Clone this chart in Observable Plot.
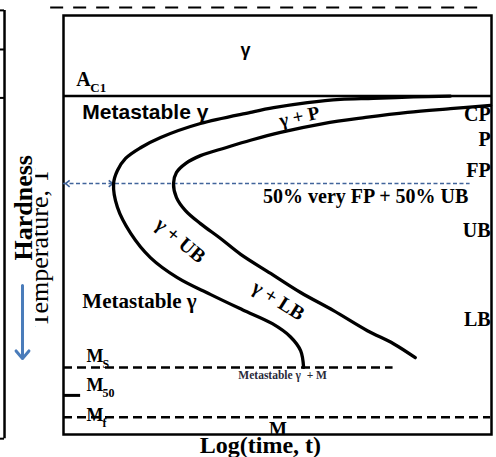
<!DOCTYPE html>
<html>
<head>
<meta charset="utf-8">
<script src="https://cdn.jsdelivr.net/npm/d3@7"></script>
<script src="https://cdn.jsdelivr.net/npm/@observablehq/plot@0.6"></script>
<style>
  body { margin: 0; background: #fff; }
</style>
</head>
<body>
<div id="chart"></div>
<script>
// Isothermal transformation (TTT) diagram: log time on x, temperature on y.

// Transformation-start curve (log10 time, temperature)
const startLogT = [9.04, 8.18, 7.24, 6.47, 5.70, 4.91, 4.37, 3.20, 2.27, 1.80, 1.45, 1.26, 1.17,
                   1.26, 1.57, 2.03, 2.66, 3.43, 4.18, 4.88, 5.30, 5.54, 5.61];
const startTemp = [727, 725, 722, 720, 713, 702, 692, 668, 638, 616, 593, 567, 539,
                   488, 432, 380, 337, 301, 268, 238, 210, 180, 144];

// Transformation-finish curve
const finishLogT = [9.98, 9.04, 8.04, 7.06, 6.07, 5.07, 4.37, 3.79, 3.20, 2.85, 2.64, 2.57,
                    2.64, 2.85, 3.20, 3.67, 4.14, 4.84, 5.54, 6.31, 7.10, 7.71, 8.22];
const finishTemp = [707, 700, 692, 681, 668, 649, 632, 616, 599, 582, 563, 539,
                    509, 481, 453, 421, 387, 346, 305, 266, 223, 195, 165];

// Critical temperatures
const AC1 = 727;
const MS = 144;
const M50 = 84;
const MF = 37;
const ISO_TEMP = 539;          // isothermal hold through the nose

// Products formed on the right-hand side
const productNames = ["CP", "P", "FP", "UB", "LB"];
const productTemps = [674, 619, 553, 424, 233];

// Martensite temperature labels
const martNames = ["M", "M", "M"];
const martSubs = ["S", "50", "f"];
const martLabelTemps = [155, 94, 30];

const serif = "'Liberation Serif', 'Times New Roman', serif";
const sans = "'Liberation Sans', Arial, sans-serif";
const blue = "#4a7cba";
const isoBlue = "#41649b";

const start = startLogT.map((x, i) => ({x, y: startTemp[i]}));
const finish = finishLogT.map((x, i) => ({x, y: finishTemp[i]}));
const products = productNames.map((name, i) => ({name, y: productTemps[i]}));
const mart = martNames.map((name, i) => ({name, sub: martSubs[i], y: martLabelTemps[i]}));

// Open chevron used for the small arrowheads on the isotherm
const chevron = {
  draw(context, size) {
    const r = Math.sqrt(size / Math.PI);
    context.moveTo(r, -r * 0.8);
    context.lineTo(0, 0);
    context.lineTo(r, r * 0.8);
  }
};

const bold = {fontFamily: serif, fontWeight: "bold", fill: "black", lineAnchor: "bottom"};

const chart = Plot.plot({
  width: 496,
  height: 457,
  marginLeft: 63,
  marginRight: 5,
  marginTop: 15,
  marginBottom: 23,
  x: {domain: [0, 10], axis: null},
  y: {domain: [0, 900], axis: null},
  style: {background: "white", overflow: "visible"},
  marks: [
    // edge of the neighbouring panel
    Plot.ruleX([-1.378], {y1: 911, y2: -9, stroke: "black", strokeWidth: 2.5}),
    Plot.ruleY([911, 827, 723, -9], {x1: -1.5, x2: -1.378, stroke: "black", strokeWidth: 2}),

    // dashed line above the panel
    Plot.ruleY([917], {x1: -0.3, x2: 9.77, stroke: "black", strokeWidth: 2, strokeDasharray: "13,10"}),

    // temperature label column
    Plot.text(["Temperature, T"], {x: -0.36, y: 401, rotate: -90, fontFamily: serif, fontSize: 26,
      fill: "black", lineAnchor: "bottom", textAnchor: "middle"}),
    Plot.rect([0], {x1: -1.29, x2: -0.65, y1: 213, y2: 612, fill: "white"}),
    Plot.text(["Hardness"], {...bold, x: -0.73, y: 487, rotate: -90, fontSize: 26, textAnchor: "middle"}),
    Plot.arrow([0], {x1: -0.958, x2: -0.958, y1: 320, y2: 163, stroke: blue, strokeWidth: 3,
      headLength: 5, headAngle: 80}),

    Plot.frame({stroke: "black", strokeWidth: 2.5}),

    // critical temperature lines
    Plot.ruleY([AC1], {stroke: "black", strokeWidth: 2.5}),
    Plot.ruleY([MS], {x1: 0, x2: 7.7, stroke: "black", strokeWidth: 2.5, strokeDasharray: "9,5"}),
    Plot.ruleY([M50], {x1: 0, x2: 0.4, stroke: "black", strokeWidth: 3}),
    Plot.ruleY([MF], {x1: 0, x2: 9.98, stroke: "black", strokeWidth: 2.5, strokeDasharray: "9,5"}),

    // isotherm through the nose
    Plot.ruleY([ISO_TEMP], {x1: 0, x2: 9.5, stroke: isoBlue, strokeWidth: 1.6, strokeDasharray: "4,2.5"}),
    Plot.dot([0.05, 1.15], {x: d => d, y: ISO_TEMP, symbol: chevron, r: 4, fill: "none",
      stroke: isoBlue, strokeWidth: 1.6, rotate: d => (d < 1 ? 0 : 180)}),

    // transformation curves
    Plot.line(start, {x: "x", y: "y", curve: "catmull-rom", stroke: "black", strokeWidth: 3.3}),
    Plot.line(finish, {x: "x", y: "y", curve: "catmull-rom", stroke: "black", strokeWidth: 3.3}),

    // phase field labels
    Plot.text(["γ"], {x: 4.25, y: 814, fontFamily: sans, fontWeight: "bold", fontSize: 18,
      fill: "black", lineAnchor: "bottom", textAnchor: "middle"}),
    Plot.text(["A"], {...bold, x: 0.30, y: AC1, dy: -10.5, fontSize: 20, textAnchor: "start"}),
    Plot.text(["C1"], {...bold, x: 0.30, y: AC1, dx: 14, dy: -4.5, fontSize: 13, textAnchor: "start"}),
    Plot.text(["Metastable γ"], {x: 0.44, y: 677, fontFamily: sans, fontWeight: "bold", fontSize: 21,
      fill: "black", lineAnchor: "bottom", textAnchor: "start"}),
    Plot.text(["Metastable γ"], {...bold, x: 0.44, y: 271, fontSize: 21, textAnchor: "start"}),
    Plot.text(["γ + P"], {...bold, x: 5.54, y: 670, fontSize: 19, rotate: -12, textAnchor: "middle"}),
    Plot.text(["γ + UB"], {...bold, x: 2.73, y: 417, fontSize: 20, rotate: 40, textAnchor: "middle",
      lineAnchor: "middle"}),
    Plot.text(["γ + LB"], {...bold, x: 5.02, y: 288, fontSize: 20, rotate: 32, textAnchor: "middle",
      lineAnchor: "middle"}),
    Plot.text(["50% very FP + 50% UB"], {...bold, x: 7.06, y: 498, fontSize: 20, textAnchor: "middle"}),
    Plot.text(products, {...bold, x: 9.98, y: "y", text: "name", fontSize: 20, textAnchor: "end"}),

    // martensite labels
    Plot.text(mart, {...bold, x: 0.54, y: "y", text: "name", fontSize: 18, textAnchor: "start"}),
    Plot.text(mart, {...bold, x: 0.54, y: "y", text: "sub", dx: 16, dy: 6, fontSize: 12, textAnchor: "start"}),
    Plot.text(["Metastable γ\u00a0 + M"], {...bold, x: 5.12, y: 120, fontSize: 11.5, fill: "#2a2a3a",
      textAnchor: "middle"}),
    Plot.text(["M"], {...bold, x: 5.01, y: 0, fontSize: 19, textAnchor: "middle"}),

    // x axis title
    Plot.text(["Log(time, t)"], {...bold, x: 4.60, y: -39, fontSize: 24, textAnchor: "middle"})
  ]
});

document.getElementById("chart").appendChild(chart);
</script>
</body>
</html>
